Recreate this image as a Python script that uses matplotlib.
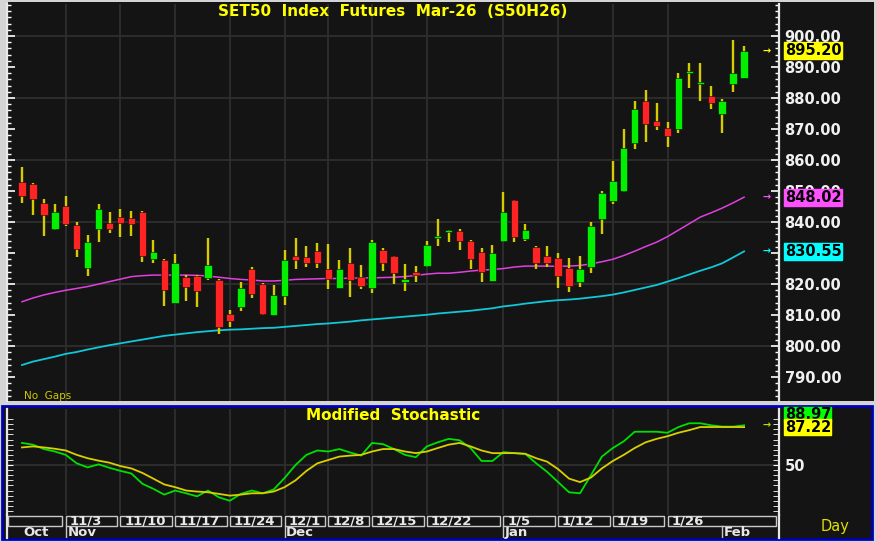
import numpy as np
import matplotlib
matplotlib.use('Agg')
import matplotlib.pyplot as plt
from matplotlib.patches import Rectangle
from matplotlib.ticker import MultipleLocator, FormatStrFormatter
from matplotlib.transforms import blended_transform_factory

# Daily candles, 28 Oct 2025 - 4 Feb 2026 (S50H26)
opens = [852.9, 852.2, 846.2, 837.6, 845.2, 839.0, 825.1, 837.6, 839.8, 841.7,
         841.4, 843.1, 828.0, 827.7, 814.0, 822.2, 822.6, 821.8, 821.3, 810.2,
         812.7, 824.7, 819.9, 810.0, 816.2, 829.0, 828.8, 830.6, 824.7, 818.6,
         826.7, 822.4, 818.6, 831.0, 829.0, 820.7, 823.8, 825.9, 834.9, 836.7,
         837.1, 833.9, 830.3, 821.1, 833.9, 847.1, 834.5, 831.8, 829.1, 828.3,
         825.3, 820.7, 825.4, 840.9, 846.9, 850.0, 865.6, 879.0, 872.7, 870.4,
         869.9, 888.2, 884.4, 880.6, 874.8, 884.5, 886.5]
highs = [857.7, 852.5, 847.4, 845.8, 848.5, 840.1, 835.8, 845.8, 843.1, 844.1,
         843.5, 843.5, 834.2, 828.0, 829.6, 822.9, 822.8, 834.7, 821.5, 811.8,
         820.7, 825.4, 820.2, 819.7, 831.0, 834.7, 832.4, 833.1, 832.8, 827.7,
         831.7, 826.1, 834.2, 831.5, 829.2, 826.5, 825.8, 833.9, 840.9, 837.4,
         837.7, 834.2, 831.5, 832.6, 849.8, 847.1, 839.3, 832.3, 832.3, 829.9,
         828.3, 829.1, 839.9, 850.0, 859.8, 870.0, 879.0, 882.6, 878.3, 872.4,
         888.0, 891.2, 891.2, 884.0, 879.7, 898.7, 896.8]
lows = [846.1, 842.3, 835.6, 837.4, 838.7, 828.8, 822.6, 833.6, 836.5, 835.3,
        835.6, 827.2, 826.9, 812.9, 813.8, 814.6, 812.7, 821.3, 803.9, 806.2,
        811.4, 815.4, 810.0, 810.0, 813.2, 824.7, 825.4, 825.1, 818.3, 818.6,
        815.9, 818.3, 817.0, 824.3, 820.0, 817.7, 820.7, 825.6, 832.4, 833.6,
        831.0, 824.8, 820.7, 821.1, 833.6, 833.6, 834.0, 824.8, 825.6, 818.6,
        817.5, 819.1, 823.5, 836.0, 845.7, 849.8, 863.5, 865.9, 869.7, 864.3,
        868.6, 883.1, 879.1, 876.5, 868.6, 881.8, 886.5]
closes = [848.4, 847.3, 842.3, 843.2, 839.4, 831.3, 833.5, 844.1, 837.6, 839.6,
          839.4, 829.0, 830.4, 818.1, 826.9, 818.9, 817.7, 826.1, 806.2, 808.1,
          818.6, 816.7, 810.5, 816.5, 827.7, 827.7, 826.7, 826.7, 821.6, 824.7,
          821.3, 819.4, 833.6, 826.7, 823.5, 821.5, 822.9, 832.6, 835.2, 837.1,
          834.0, 828.0, 823.8, 829.9, 843.1, 835.3, 837.4, 826.7, 826.7, 822.7,
          819.5, 824.7, 838.8, 849.5, 853.3, 863.8, 876.4, 871.5, 871.0, 867.8,
          886.5, 888.5, 884.6, 878.5, 879.0, 888.0, 895.2]

# Moving averages
ma_magenta = [814.3, 815.5, 816.5, 817.3, 818.0, 818.6, 819.2, 820.0, 820.8, 821.6,
              822.4, 822.7, 822.9, 822.9, 822.9, 822.9, 822.8, 822.6, 822.2, 821.8,
              821.5, 821.3, 821.0, 821.0, 821.2, 821.5, 821.6, 821.7, 821.8, 821.8,
              821.9, 822.0, 822.0, 822.1, 822.2, 822.4, 822.8, 823.2, 823.5, 823.5,
              823.8, 824.2, 824.5, 824.7, 825.0, 825.5, 825.8, 825.8, 825.8, 825.7,
              825.8, 826.0, 826.5, 827.2, 828.0, 829.2, 830.6, 832.1, 833.5, 835.3,
              837.4, 839.5, 841.6, 843.0, 844.5, 846.2, 848.02]
ma_cyan = [793.9, 795.0, 795.8, 796.6, 797.5, 798.1, 798.9, 799.6, 800.3, 800.9,
           801.5, 802.1, 802.7, 803.3, 803.7, 804.1, 804.5, 804.8, 805.1, 805.3,
           805.4, 805.6, 805.8, 805.9, 806.2, 806.5, 806.8, 807.1, 807.3, 807.6,
           807.9, 808.3, 808.6, 808.9, 809.2, 809.5, 809.8, 810.1, 810.5, 810.8,
           811.1, 811.4, 811.8, 812.2, 812.8, 813.2, 813.7, 814.1, 814.5, 814.8,
           815.0, 815.3, 815.7, 816.1, 816.6, 817.3, 818.1, 818.9, 819.7, 820.8,
           821.9, 823.1, 824.3, 825.4, 826.7, 828.6, 830.55]

# Modified stochastic
stoch_k = [71.7, 70.0, 65.7, 63.3, 60.0, 51.7, 47.7, 50.7, 47.3, 44.3,
           41.7, 31.7, 26.7, 21.0, 25.0, 22.3, 19.3, 25.0, 18.3, 15.0,
           21.7, 25.0, 22.3, 26.0, 37.3, 50.0, 60.0, 64.3, 63.3, 65.7,
           62.3, 59.3, 71.7, 70.5, 65.7, 60.0, 57.7, 68.3, 72.3, 75.7,
           74.3, 66.7, 54.0, 54.0, 62.7, 61.7, 61.0, 51.7, 43.3, 33.3,
           23.3, 22.3, 40.0, 58.3, 66.7, 73.3, 82.7, 82.7, 82.7, 81.7,
           87.3, 91.0, 91.0, 89.0, 87.7, 87.7, 88.97]
stoch_d = [67.3, 68.3, 67.3, 66.0, 64.3, 60.0, 56.7, 54.3, 52.3, 49.0,
           46.7, 42.3, 36.7, 31.0, 28.3, 25.0, 24.0, 23.3, 21.7, 20.0,
           21.0, 22.3, 22.3, 24.0, 28.3, 35.0, 44.3, 51.7, 55.0, 58.3,
           59.3, 60.0, 63.3, 65.7, 65.7, 63.3, 61.7, 63.3, 66.7, 70.0,
           71.7, 68.3, 64.3, 61.7, 61.7, 61.7, 61.0, 56.7, 53.3, 46.0,
           36.7, 33.3, 37.7, 46.7, 54.0, 60.0, 66.7, 72.3, 75.7, 78.3,
           81.7, 84.3, 87.3, 87.3, 87.3, 87.3, 87.22]

# Date axis (candle index where each week / month starts)
week_idx = [4, 9, 14, 19, 24, 28, 32, 37, 44, 49, 54, 59]
week_labels = ['11/3', '11/10', '11/17', '11/24', '12/1', '12/8', '12/15',
               '12/22', '1/5', '1/12', '1/19', '1/26']
month_idx = [0, 4, 24, 44, 64]
month_labels = ['Oct', 'Nov', 'Dec', 'Jan', 'Feb']

W, H = 876, 542
BG = '#141414'
GRID = '#2e2e2e'
XLIM = (-1.37, 69.19)


def box(x0, y0, x1, y1):
    # pixel box -> figure coords
    return [x0 / W, 1 - y1 / H, (x1 - x0) / W, (y1 - y0) / H]


fig = plt.figure(figsize=(W / 100, H / 100), dpi=100, facecolor='#d4d4d4')
fig.patches.append(Rectangle((8 / W, 1 - 401 / H), 866 / W, 399 / H,
                             transform=fig.transFigure, facecolor=BG, zorder=-5))
fig.patches.append(Rectangle((2 / W, 1 - 539 / H), 870 / W, 133 / H,
                             transform=fig.transFigure, facecolor=BG,
                             edgecolor='#0000b4', linewidth=2, zorder=-5))

ax1 = fig.add_axes(box(7, 4, 779, 401), facecolor=BG)
ax2 = fig.add_axes(box(7, 409, 779, 515), facecolor=BG)
ax3 = fig.add_axes(box(7, 515, 779, 538), facecolor=BG)

x = np.arange(len(closes))
o = np.array(opens)
c = np.array(closes)

# ---- price panel ----
for i in week_idx:
    ax1.axvline(i, color=GRID, lw=1.3, zorder=0)
for v in range(800, 901, 20):
    ax1.axhline(v, color=GRID, lw=1.3, zorder=0)

colors = np.where(c >= o, '#00f000', '#ff2424')
ax1.vlines(x, lows, highs, color='#d4cc00', lw=1.7, zorder=2)
ax1.bar(x, np.maximum(np.abs(c - o), 0.6), bottom=np.minimum(o, c), width=0.68,
        color=colors, edgecolor='#0a0a0a', linewidth=0.4, zorder=3)
ax1.plot(x, ma_magenta, color='#e040e0', lw=1.1, zorder=1)
ax1.plot(x, ma_cyan, color='#10c8d8', lw=1.3, zorder=1)

ax1.set_xlim(*XLIM)
ax1.set_ylim(782.3, 910.3)
ax1.set_xticks([])
ax1.set_yticks(np.arange(790, 901, 10))
ax1.yaxis.set_minor_locator(MultipleLocator(2))
ax1.yaxis.set_major_formatter(FormatStrFormatter('%.2f'))
ax1.tick_params(axis='y', which='both', direction='in', left=True, right=True,
                labelleft=False, labelright=True, color='white',
                labelcolor='#f0f0f0', labelsize=10.5, pad=4)
ax1.tick_params(axis='y', which='major', length=6, width=1.2)
ax1.tick_params(axis='y', which='minor', length=3, width=1)
plt.setp(ax1.get_yticklabels(), fontweight='bold')
for s in ['top', 'bottom']:
    ax1.spines[s].set_visible(False)
for s in ['left', 'right']:
    ax1.spines[s].set_color('#e8e8e8')
    ax1.spines[s].set_linewidth(1.6)

# last-value badges on the price scale
trans1 = blended_transform_factory(ax1.transAxes, ax1.transData)
for val, col in [(closes[-1], '#ffff00'), (ma_magenta[-1], '#ff50ff'),
                 (ma_cyan[-1], '#00ffff')]:
    ax1.text(0.9845, val, '→', transform=trans1, ha='center', va='center',
             fontsize=7, fontweight='bold', color=col, clip_on=False)
    ax1.text(1.0075, val, f'{val:.2f}', transform=trans1, ha='left', va='center',
             fontsize=10.5, fontweight='bold', color='black', clip_on=False,
             zorder=5, bbox=dict(boxstyle='square,pad=0.06', fc=col, ec=col))

fig.text(24 / W, 1 - 396 / H, 'No  Gaps', fontsize=7.5, color='#d0c800',
         ha='left', va='center')
fig.text(393 / W, 1 - 11 / H, 'SET50  Index  Futures  Mar-26  (S50H26)',
         ha='center', va='center', fontsize=11, fontweight='bold', color='#ffff00')

# ---- stochastic panel ----
for i in week_idx:
    ax2.axvline(i, color=GRID, lw=1.3, zorder=0)
ax2.axhline(50, color=GRID, lw=1.3, zorder=0)
ax2.plot(x, stoch_k, color='#00e000', lw=1.3)
ax2.plot(x, stoch_d, color='#d8d000', lw=1.3)
ax2.set_xlim(*XLIM)
ax2.set_ylim(1, 105)
ax2.set_xticks([])
ax2.set_yticks([50])
ax2.set_yticklabels(['50'])
ax2.set_yticks(np.arange(5, 100, 5), minor=True)
ax2.tick_params(axis='y', which='both', direction='in', left=True, right=True,
                labelleft=False, labelright=True, color='white',
                labelcolor='#f0f0f0', labelsize=10.5, pad=4, length=4)
plt.setp(ax2.get_yticklabels(), fontweight='bold')
for s in ['top', 'bottom']:
    ax2.spines[s].set_visible(False)
for s in ['left', 'right']:
    ax2.spines[s].set_color('#e8e8e8')
    ax2.spines[s].set_linewidth(1.6)

trans2 = blended_transform_factory(ax2.transAxes, ax2.transData)
ax2.text(0.9845, stoch_d[-1] + 1.5, '→', transform=trans2, ha='center', va='center',
         fontsize=7, fontweight='bold', color='#b0e000', clip_on=False)
ax2.text(1.0075, stoch_d[-1] + 12.5, f'{stoch_k[-1]:.2f}', transform=trans2,
         ha='left', va='center', fontsize=10.5, fontweight='bold', color='black',
         clip_on=False, bbox=dict(boxstyle='square,pad=0.02', fc='#00ff00', ec='#00ff00'))
ax2.text(1.0075, stoch_d[-1], f'{stoch_d[-1]:.2f}', transform=trans2,
         ha='left', va='center', fontsize=10.5, fontweight='bold', color='black',
         clip_on=False, bbox=dict(boxstyle='square,pad=0.02', fc='#ffff00', ec='#ffff00'))

fig.text(393 / W, 1 - 415.5 / H, 'Modified  Stochastic', ha='center', va='center',
         fontsize=11, fontweight='bold', color='#ffff00')

# ---- date axis ----
ax3.set_xlim(*XLIM)
ax3.set_ylim(23, 0)
ax3.axis('off')
ax3.plot([XLIM[1], XLIM[1]], [0, 23], color='#e8e8e8', lw=1.6, clip_on=False)
ax3.plot([XLIM[0], XLIM[0]], [0, 23], color='#e8e8e8', lw=1.6, clip_on=False)
starts = [XLIM[0] + 0.08] + week_idx
ends = week_idx + [XLIM[1] + 0.05]
for k, (a, b) in enumerate(zip(starts, ends)):
    ax3.add_patch(Rectangle((a, 0.5), (b - a) - 0.3, 10.5, fill=False,
                            edgecolor='#c8c8c8', lw=1))
    if k > 0:
        ax3.text(a + 0.35, 6, week_labels[k - 1], fontsize=9.5, fontweight='bold',
                 color='#e8e8e8', ha='left', va='center')
for i, lab in zip(month_idx, month_labels):
    if i > 0:
        ax3.plot([i, i], [11, 23], color='#c8c8c8', lw=1)
    ax3.text(i + 0.15, 17.3, lab, fontsize=9.5, fontweight='bold', color='#e8e8e8',
             ha='left', va='center')

fig.text(835 / W, 1 - 526 / H, 'Day', ha='center', va='center', fontsize=10.5,
         color='#e0e000')

plt.savefig('out.png', dpi=100, facecolor=fig.get_facecolor())
